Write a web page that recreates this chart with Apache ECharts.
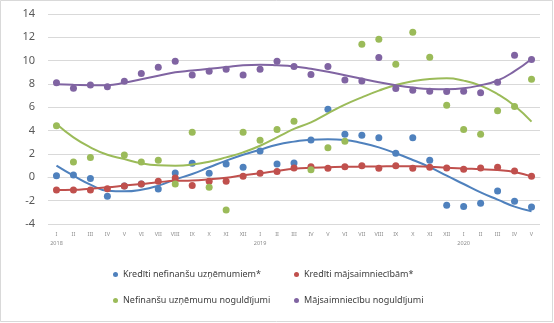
<!DOCTYPE html>
<html><head><meta charset="utf-8">
<script src="https://cdn.jsdelivr.net/npm/echarts@6/dist/echarts.min.js"></script>
<style>html,body{margin:0;padding:0;background:#fff}#c{width:554px;height:323px}</style>
</head><body><div id="c"></div>
<script>
var months = ['I','II','III','IV','V','VI','VII','VIII','IX','X','XI','XII','I','II','III','IV','V','VI','VII','VIII','IX','X','XI','XII','I','II','III','IV','V'];
var yearLabels = {0:'2018',12:'2019',24:'2020'};
var yTicks = [-4,-2,0,2,4,6,8,10,12,14];

var names = ['Kredīti nefinanšu uzņēmumiem*','Kredīti mājsaimniecībām*','Nefinanšu uzņēmumu noguldījumi','Mājsaimniecību noguldījumi'];

var loansCorp = [0.14,0.2,-0.09,-1.63,-0.74,-0.57,-1.0,0.37,1.2,0.34,1.14,0.86,2.26,1.14,1.22,3.2,5.83,3.69,3.6,3.4,2.06,3.4,1.46,-2.4,-2.49,-2.23,-1.17,-2.06,-2.54];
var loansHouse = [-1.09,-1.09,-1.09,-0.97,-0.74,-0.57,-0.34,-0.06,-0.71,-0.34,-0.34,0.09,0.34,0.51,0.8,0.91,0.77,0.91,1.0,0.77,1.0,0.77,0.86,0.8,0.69,0.8,0.86,0.54,0.09];
var depCorp = [4.43,1.31,1.71,null,1.91,1.31,1.46,-0.57,3.86,-0.86,-2.8,3.86,3.17,4.11,4.8,0.66,2.54,3.09,11.4,11.83,9.69,12.44,10.29,6.17,4.11,3.69,5.7,6.08,8.4];
var depHouse = [8.11,7.63,7.91,7.77,8.23,8.91,9.43,9.94,8.77,9.09,9.26,8.77,9.26,9.94,9.5,8.82,9.5,8.35,8.25,10.28,7.62,7.46,7.37,7.35,7.37,7.26,8.14,10.46,10.11];

var trendLoansCorp = [1.0,0.14,-0.63,-1.14,-1.2,-1.06,-0.71,-0.18,0.29,0.86,1.43,1.94,2.37,2.8,3.06,3.23,3.26,3.2,2.94,2.57,2.06,1.49,0.88,0.14,-0.57,-1.29,-1.91,-2.51,-2.91];
var trendLoansHouse = [-1.09,-1.07,-0.97,-0.86,-0.71,-0.57,-0.42,-0.3,-0.27,-0.17,-0.03,0.17,0.34,0.54,0.73,0.82,0.86,0.9,0.92,0.93,0.95,0.95,0.9,0.82,0.75,0.7,0.62,0.46,0.08];
var trendDepCorp = [4.57,3.43,2.57,1.94,1.57,1.2,1.03,1.0,1.09,1.34,1.71,2.14,2.71,3.43,4.15,4.71,5.49,6.23,6.86,7.43,7.91,8.23,8.43,8.49,8.29,7.86,7.14,6.14,4.77];
var trendDepHouse = [7.97,7.93,7.9,7.9,8.1,8.4,8.7,9.0,9.15,9.3,9.45,9.6,9.65,9.6,9.5,9.3,9.05,8.75,8.45,8.15,7.9,7.7,7.57,7.55,7.63,7.9,8.3,9.1,10.15];

var colors = ['#4F81BD','#C0504D','#9BBB59','#8064A2'];
var pts = [loansCorp, loansHouse, depCorp, depHouse];
var trends = [trendLoansCorp, trendLoansHouse, trendDepCorp, trendDepHouse];

var series = [];
for (var k = 0; k < 4; k++) {
  series.push({name: names[k], type: 'scatter', data: pts[k], symbol: 'circle', symbolSize: 7,
    itemStyle: {color: colors[k], opacity: 1}, z: 2 + k*2, silent: true});
  series.push({name: names[k] + ' trend', type: 'line', data: trends[k], smooth: true, showSymbol: false,
    lineStyle: {color: colors[k], width: 2}, itemStyle: {color: colors[k]}, z: 3 + k*2, silent: true});
}

var legendPos = [[108,265],[289,265],[108,291],[289,291]];
var legends = [];
for (var k = 0; k < 4; k++) {
  legends.push({data: [names[k]], left: legendPos[k][0], top: legendPos[k][1], icon: 'circle',
    itemWidth: 5, itemHeight: 5, itemGap: 4, selectedMode: false,
    textStyle: {color: '#404040', fontSize: 9, fontFamily: 'Noto Sans'}});
}

var chart = echarts.init(document.getElementById('c'), null, {renderer: 'canvas'});
chart.setOption({
  animation: false,
  backgroundColor: '#fff',
  grid: {left: 48, right: 14, top: 14, bottom: 99},
  legend: legends,
  xAxis: {
    type: 'category', data: months, boundaryGap: true,
    axisLine: {show: true, lineStyle: {color: '#d9d9d9'}},
    axisTick: {show: false},
    axisLabel: {interval: 0, color: '#8c8c8c', fontSize: 5.5, fontFamily: 'Noto Sans', margin: 6, lineHeight: 9,
      formatter: function (v, i) { return yearLabels[i] ? v + '\n' + yearLabels[i] : v; }}
  },
  yAxis: {
    type: 'value', min: yTicks[0], max: yTicks[yTicks.length-1], interval: 2,
    axisLine: {show: false}, axisTick: {show: false},
    splitLine: {lineStyle: {color: '#d9d9d9', width: 1}},
    axisLabel: {color: '#595959', fontSize: 11, fontFamily: 'Noto Sans', margin: 13}
  },
  graphic: [{type: 'rect', shape: {x: 0.5, y: 0.5, width: 552, height: 321},
    style: {fill: 'none', stroke: '#d9d9d9', lineWidth: 1}, silent: true, z: 100}],
  series: series
});
</script></body></html>
